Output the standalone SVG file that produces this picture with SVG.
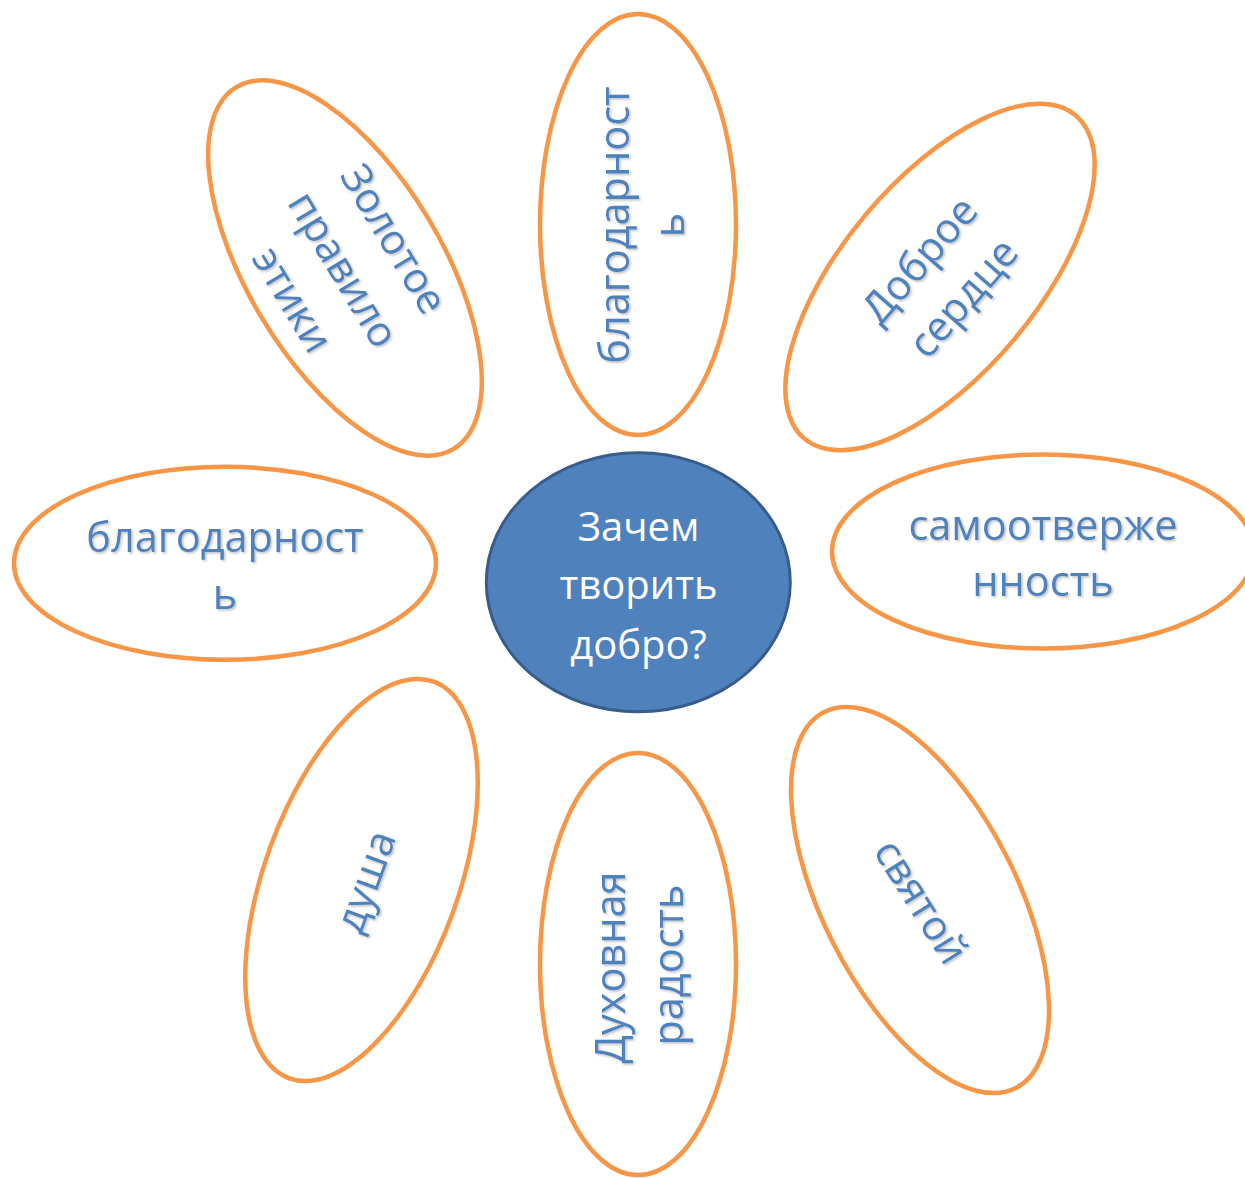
<svg xmlns="http://www.w3.org/2000/svg" width="1245" height="1178" viewBox="0 0 1245 1178">
<defs>
<style>
.petal{fill:#FFFFFF;stroke:#F79646;stroke-width:4.5}
.core{fill:#4F81BD;stroke:#385D8A;stroke-width:3}
.pt{font-family:"Open Sans","Noto Sans","Liberation Sans",sans-serif;font-size:41.5px;fill:#4F81BD;text-anchor:middle}
.ct{font-family:"Open Sans","Noto Sans","Liberation Sans",sans-serif;font-size:40px;fill:#FFFFFF;text-anchor:middle}
</style>
<filter id="sh" x="-20%" y="-20%" width="140%" height="140%">
<feDropShadow dx="1.5" dy="1.5" stdDeviation="1.2" flood-color="#000000" flood-opacity="0.25"/>
</filter>
</defs>
<rect width="1245" height="1178" fill="#FFFFFF"/>

<g id="petal-top">
<ellipse class="petal" cx="638" cy="224.5" rx="98" ry="210.5"/>
<g filter="url(#sh)"><g transform="translate(638,225) rotate(-90)">
<text class="pt" x="0" y="-9">благодарност</text>
<text class="pt" x="0" y="46">ь</text>
</g></g>
</g>

<g id="petal-top-right">
<ellipse class="petal" cx="940" cy="277" rx="97" ry="211" transform="rotate(40 940 277)"/>
<g filter="url(#sh)"><g transform="translate(943.8,281) rotate(-49)">
<text class="pt" x="0" y="-18">Доброе</text>
<text class="pt" x="0" y="40">сердце</text>
</g></g>
</g>

<g id="petal-right">
<ellipse class="petal" cx="1043" cy="551.5" rx="211" ry="97"/>
<g filter="url(#sh)">
<text class="pt" x="1043" y="540">самоотверже</text>
<text class="pt" x="1043" y="596">нность</text>
</g>
</g>

<g id="petal-bottom-right">
<ellipse class="petal" cx="920" cy="900" rx="97" ry="211" transform="rotate(-27 920 900)"/>
<g filter="url(#sh)"><g transform="translate(918.3,903.3) rotate(58)">
<text class="pt" x="0" y="11">святой</text>
</g></g>
</g>

<g id="petal-bottom">
<ellipse class="petal" cx="638" cy="964" rx="98" ry="211"/>
<g filter="url(#sh)"><g transform="translate(638,965) rotate(-90)">
<text class="pt" x="-2.5" y="-13">Духовная</text>
<text class="pt" x="0" y="45">радость</text>
</g></g>
</g>

<g id="petal-bottom-left">
<ellipse class="petal" cx="361.5" cy="880" rx="97" ry="211" transform="rotate(20 361.5 880)"/>
<g filter="url(#sh)"><g transform="translate(368.3,882.5) rotate(-70)">
<text class="pt" x="0" y="11">душа</text>
</g></g>
</g>

<g id="petal-left">
<ellipse class="petal" cx="225" cy="563.3" rx="211" ry="96.5"/>
<g filter="url(#sh)">
<text class="pt" x="225" y="552">благодарност</text>
<text class="pt" x="225" y="609">ь</text>
</g>
</g>

<g id="petal-top-left">
<ellipse class="petal" cx="345" cy="268" rx="97" ry="211" transform="rotate(-31 345 268)"/>
<g filter="url(#sh)"><g transform="translate(340.5,271) rotate(59)">
<text class="pt" x="0" y="-48">Золотое</text>
<text class="pt" x="0" y="11">правило</text>
<text class="pt" x="0" y="70">этики</text>
</g></g>
</g>

<g id="center">
<ellipse class="core" cx="638.3" cy="582.3" rx="152" ry="129.5"/>
<text class="ct" x="638.5" y="541">Зачем</text>
<text class="ct" x="638.5" y="599">творить</text>
<text class="ct" x="638.5" y="659">добро?</text>
</g>
</svg>
